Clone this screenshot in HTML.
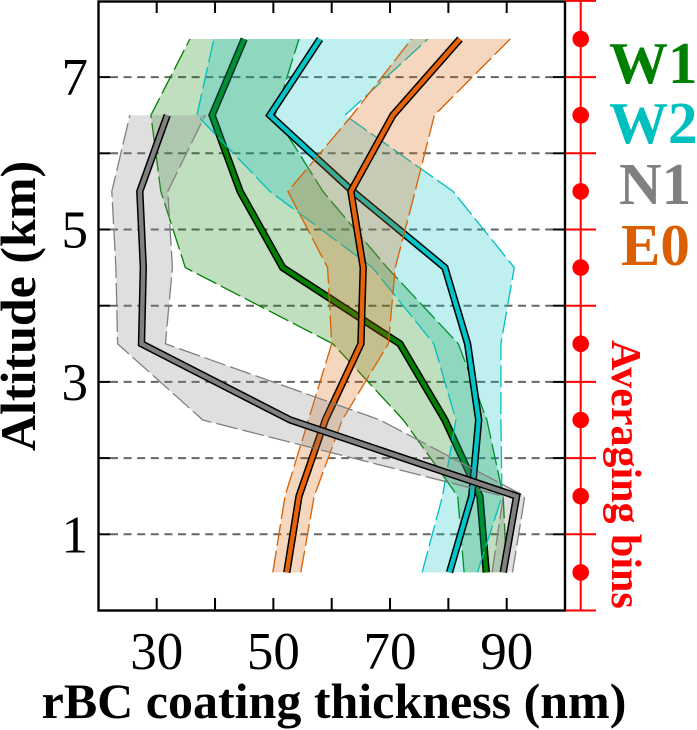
<!DOCTYPE html>
<html>
<head>
<meta charset="utf-8">
<title>rBC coating thickness profiles</title>
<style>
html,body{margin:0;padding:0;background:#fff;width:697px;height:730px;overflow:hidden}
svg{display:block}
text{font-family:"Liberation Serif",serif}
</style>
</head>
<body>
<svg id="chart" xmlns="http://www.w3.org/2000/svg" width="697" height="730" viewBox="0 0 697 730">
<g id="grid"></g>
<g id="series"></g>
<rect x="98.5" y="1.5" width="466.5" height="609" fill="none" stroke="#000" stroke-width="2.4"/>
<g id="ticks"></g>
<g id="bins"></g>
<g id="labels"></g>
<text x="334" y="718" text-anchor="middle" font-size="50" font-weight="bold">rBC coating thickness (nm)</text>
<text transform="translate(35,306) rotate(-90)" text-anchor="middle" font-size="50" font-weight="bold">Altitude (km)</text>
<text x="609" y="83" font-size="59" font-weight="bold" fill="#008000">W1</text>
<text x="609" y="143" font-size="59" font-weight="bold" fill="#00bfbf">W2</text>
<text x="619" y="204" font-size="59" font-weight="bold" fill="#808080">N1</text>
<text x="621" y="265" font-size="59" font-weight="bold" fill="#d95f02">E0</text>
<text transform="translate(612,340) rotate(90)" font-size="42" font-weight="bold" fill="#ff0000">Averaging bins</text>
</svg>
<script>
var altitudes = [0.5, 1.5, 2.5, 3.5, 4.5, 5.5, 6.5, 7.5];
var altitudesN1 = [0.5, 1.5, 2.5, 3.5, 4.5, 5.5, 6.5];
var xTickValues = [30, 40, 50, 60, 70, 80, 90];
var xTickLabels = [30, 50, 70, 90];
var yTickValues = [1, 2, 3, 4, 5, 6, 7];
var yTickLabels = [1, 3, 5, 7];
var binEdges = [0, 1, 2, 3, 4, 5, 6, 7, 8];
var binCenters = [0.5, 1.5, 2.5, 3.5, 4.5, 5.5, 6.5, 7.5];

var w1Mean = [86.5, 85.4, 79.4, 71.7, 51.6, 44.3, 39.5, 45.0];
var w1Low = [82.7, 81.6, 72.3, 60.2, 34.9, 30.7, 29.0, 35.7];
var w1High = [90.0, 89.4, 86.6, 81.7, 69.5, 58.5, 50.3, 54.4];

var w2Mean = [80.2, 84.0, 85.2, 83.3, 79.4, 63.6, 49.4, 58.0];
var w2Low = [75.5, 79.0, 81.3, 77.5, 67.0, 49.4, 36.9, 39.8];
var w2High = [85.0, 89.2, 89.0, 89.0, 91.3, 80.8, 62.3, 76.5];

var e0Mean = [52.3, 54.4, 58.9, 65.0, 65.4, 63.3, 70.5, 82.0];
var e0Low = [49.9, 52.0, 56.0, 60.0, 59.3, 52.5, 63.5, 73.7];
var e0High = [54.7, 57.0, 61.8, 69.7, 70.9, 74.3, 77.6, 90.6];

var n1Mean = [89.4, 91.7, 52.9, 27.4, 27.7, 27.1, 31.8];
var n1Low = [87.5, 89.4, 37.9, 23.3, 23.0, 22.3, 25.4];
var n1High = [91.0, 93.1, 68.3, 31.5, 32.7, 31.9, 38.3];

var SVGNS = 'http://www.w3.org/2000/svg';
function xScale(v) { return 156.7 + (v - 30) * 5.8333; }
function yScale(a) { return 610.5 - a * 76.2; }
function make(tag, attrs, parent) {
  var el = document.createElementNS(SVGNS, tag);
  for (var k in attrs) { el.setAttribute(k, attrs[k]); }
  parent.appendChild(el);
  return el;
}
function pts(vals, alts) {
  return vals.map(function (v, i) { return xScale(v).toFixed(1) + ',' + yScale(alts[i]).toFixed(1); });
}

var gridG = document.getElementById('grid');
yTickValues.forEach(function (t) {
  var line = make('line', {x1: 110, x2: 553, y1: yScale(t), y2: yScale(t), stroke: '#666', 'stroke-width': 2, 'stroke-dasharray': '8 5.6'}, gridG);
  
  
});

function drawSeries(name, color, lineColor, mean, low, high, alts) {
  var g = document.getElementById('series');
  var lp = pts(low, alts);
  var hp = pts(high, alts);
  var fill = make('polygon', {points: lp.concat(hp.slice().reverse()).join(' '), fill: color, 'fill-opacity': 0.25, stroke: 'none'}, g);
  
  
  [lp, hp].forEach(function (p) {
    var edge = make('polyline', {points: p.join(' '), fill: 'none', stroke: color, 'stroke-width': 1.3, 'stroke-dasharray': '22 5'}, g);
    
    
  });
  var mp = pts(mean, alts).join(' ');
  var outline = make('polyline', {points: mp, fill: 'none', stroke: '#000', 'stroke-width': 7.4, 'stroke-linejoin': 'miter'}, g);
  
  
  var core = make('polyline', {points: mp, fill: 'none', stroke: lineColor, 'stroke-width': 4.4, 'stroke-linejoin': 'miter'}, g);
  
  
}
drawSeries('w1', '#008000', '#008000', w1Mean, w1Low, w1High, altitudes);
drawSeries('w2', '#00bfbf', '#00c4c8', w2Mean, w2Low, w2High, altitudes);
drawSeries('e0', '#d95f02', '#e8620a', e0Mean, e0Low, e0High, altitudes);
drawSeries('n1', '#808080', '#808080', n1Mean, n1Low, n1High, altitudesN1);

var tickG = document.getElementById('ticks');
xTickValues.forEach(function (t) {
  var x = xScale(t);
  var top = make('line', {x1: x, x2: x, y1: 1.5, y2: 13, stroke: '#000', 'stroke-width': 2}, tickG);
  
  
  var bottom = make('line', {x1: x, x2: x, y1: 598, y2: 610.5, stroke: '#000', 'stroke-width': 2}, tickG);
  
  
});
yTickValues.forEach(function (t) {
  var y = yScale(t);
  var left = make('line', {x1: 98.5, x2: 110, y1: y, y2: y, stroke: '#000', 'stroke-width': 2}, tickG);
  
  
  var right = make('line', {x1: 553, x2: 565, y1: y, y2: y, stroke: '#000', 'stroke-width': 2}, tickG);
  
  
});

var binG = document.getElementById('bins');
var spine = make('line', {x1: 580.7, x2: 580.7, y1: yScale(8), y2: yScale(0), stroke: '#ff0000', 'stroke-width': 2}, binG);


binEdges.forEach(function (b) {
  var y = yScale(b);
  var edge = make('line', {x1: 566, x2: 596, y1: y, y2: y, stroke: '#ff0000', 'stroke-width': 2}, binG);
  
  
});
binCenters.forEach(function (b) {
  var dot = make('circle', {cx: 580.7, cy: yScale(b), r: 8.3, fill: '#ff0000'}, binG);
  
  
});

var labelG = document.getElementById('labels');
xTickLabels.forEach(function (t) {
  var lab = make('text', {x: xScale(t), y: 669, 'text-anchor': 'middle', 'font-size': 53}, labelG);
  lab.textContent = t;
  
  
});
yTickLabels.forEach(function (t) {
  var lab = make('text', {x: 88, y: yScale(t) + 18, 'text-anchor': 'end', 'font-size': 53}, labelG);
  lab.textContent = t;
  
  
});
</script>
</body>
</html>
